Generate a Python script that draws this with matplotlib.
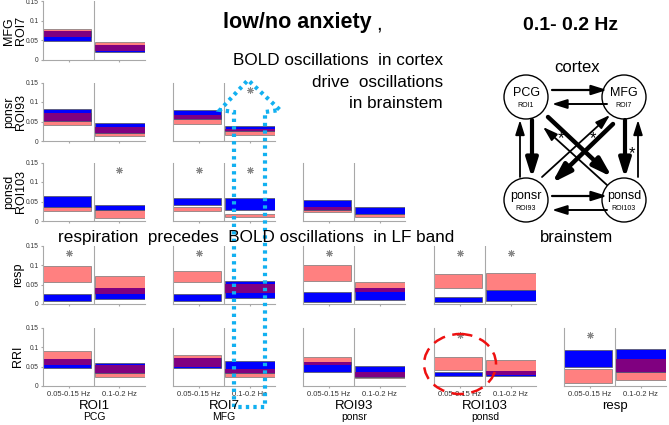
import matplotlib.pyplot as plt
from matplotlib.patches import Rectangle, Circle, Ellipse, Polygon

plt.rcParams['font.family'] = ['Liberation Sans', 'DejaVu Sans']

W, H = 669, 425

row_labels = ['MFG\nROI7', 'ponsr\nROI93', 'ponsd\nROI103', 'resp', 'RRI']
col_labels = ['ROI1', 'ROI7', 'ROI93', 'ROI103', 'resp']
col_names = ['PCG', 'MFG', 'ponsr', 'ponsd', '']
bands = ['0.05-0.15 Hz', '0.1-0.2 Hz']

# (low, high) per row -> column -> band
red_ci = [
    [[(0.059, 0.079), (0.022, 0.046)]],
    [[(0.041, 0.072), (0.013, 0.036)],
     [(0.044, 0.067), (0.016, 0.031)]],
    [[(0.026, 0.036), (0.008, 0.028)],
     [(0.026, 0.036), (0.010, 0.018)],
     [(0.023, 0.036), (0.010, 0.018)]],
    [[(0.056, 0.097), (0.025, 0.072)],
     [(0.056, 0.085), (0.028, 0.051)],
     [(0.059, 0.100), (0.031, 0.056)],
     [(0.041, 0.077), (0.036, 0.079)]],
    [[(0.054, 0.090), (0.023, 0.054)],
     [(0.050, 0.079), (0.023, 0.044)],
     [(0.054, 0.074), (0.020, 0.036)],
     [(0.041, 0.074), (0.028, 0.067)],
     [(0.008, 0.044), (0.015, 0.069)]],
]
blue_ci = [
    [[(0.049, 0.074), (0.020, 0.038)]],
    [[(0.052, 0.083), (0.021, 0.047)],
     [(0.057, 0.080), (0.026, 0.039)]],
    [[(0.036, 0.064), (0.028, 0.041)],
     [(0.041, 0.059), (0.028, 0.059)],
     [(0.028, 0.054), (0.018, 0.036)]],
    [[(0.008, 0.025), (0.013, 0.041)],
     [(0.008, 0.025), (0.015, 0.059)],
     [(0.005, 0.031), (0.010, 0.041)],
     [(0.005, 0.018), (0.008, 0.036)]],
    [[(0.046, 0.069), (0.033, 0.059)],
     [(0.047, 0.072), (0.033, 0.064)],
     [(0.036, 0.062), (0.023, 0.051)],
     [(0.026, 0.036), (0.026, 0.038)],
     [(0.049, 0.092), (0.036, 0.095)]],
]
# significant comparisons: (row, col, band)
stars = [(1, 1, 1), (2, 0, 1), (2, 1, 0), (2, 1, 1), (3, 0, 0), (3, 1, 0),
         (3, 2, 0), (3, 3, 0), (3, 3, 1), (4, 3, 0), (4, 4, 0)]
star_y = 0.13

SALMON, BLUE, PURPLE = '#ff8080', '#0000ff', '#800080'
GRID = '#a8a8a8'

col_left = [43, 173, 303, 434, 564]
row_bottom = [60, 141, 221, 304, 386]
ax_w, ax_h = 102, 58.5

fig = plt.figure(figsize=(W / 100, H / 100), dpi=100)

for r in range(5):
    for c in range(r + 1):
        ax = fig.add_axes([col_left[c] / W, 1 - row_bottom[r] / H, ax_w / W, ax_h / H])
        ax.set_xlim(0, 2)
        ax.set_ylim(0, 0.15)
        for b in range(2):
            x0 = [0.005, 1.025][b]
            w = 0.945 if b == 0 else 0.97
            rl, rh = red_ci[r][c][b]
            bl, bh = blue_ci[r][c][b]
            ax.add_patch(Rectangle((x0, rl), w, rh - rl, fc=SALMON, ec='#777777', lw=0.5))
            ax.add_patch(Rectangle((x0, bl), w, bh - bl, fc=BLUE, ec='#555555', lw=0.5))
            lo, hi = max(rl, bl), min(rh, bh)
            if hi > lo:
                ax.add_patch(Rectangle((x0, lo), w, hi - lo, fc=PURPLE, ec='none'))
        ax.axvline(1, color=GRID, lw=0.8)
        for s in ['top', 'right']:
            ax.spines[s].set_visible(False)
        for s in ['left', 'bottom']:
            ax.spines[s].set_color(GRID)
            ax.spines[s].set_linewidth(0.8)
        ax.set_xticks([0.5, 1.5])
        ax.tick_params(length=1.5, color=GRID, labelsize=4.8, pad=1.5, labelcolor='#333333')
        if r == 4:
            ax.set_xticklabels(bands, fontsize=5.5)
            ax.tick_params(axis='x', pad=2)
        else:
            ax.set_xticklabels([])
        if c == 0:
            ax.set_yticks([0, 0.05, 0.1, 0.15])
            ax.set_yticklabels(['0', '0.05', '0.1', '0.15'])
        else:
            ax.set_yticks([])
        for (sr, sc, sb) in stars:
            if sr == r and sc == c:
                ax.plot(0.5 + sb, star_y, marker=(8, 2, 0), ms=5, color='#888888', mew=0.7)

# overlay in pixel coordinates for annotations
ov = fig.add_axes([0, 0, 1, 1])
ov.set_xlim(0, W)
ov.set_ylim(H, 0)
ov.axis('off')
ov.patch.set_alpha(0)

for r in range(5):
    yc = row_bottom[r] - ax_h / 2
    xl = 15 if '\n' in row_labels[r] else 18
    ov.text(xl, yc, row_labels[r], rotation=90, ha='center', va='center',
            fontsize=9, linespacing=1.0)

for c in range(5):
    xc = col_left[c] + ax_w / 2
    ov.text(xc, 406, col_labels[c], ha='center', va='center', fontsize=9.5)
    if col_names[c]:
        ov.text(xc, 417, col_names[c], ha='center', va='center', fontsize=7.5)

ov.text(223, 22, 'low/no anxiety', ha='left', va='center', fontsize=15.5, fontweight='bold')
ov.text(376, 24, ',', ha='left', va='center', fontsize=15)
ov.text(443, 60, 'BOLD oscillations  in cortex', ha='right', va='center', fontsize=12.3)
ov.text(443, 82, 'drive  oscillations', ha='right', va='center', fontsize=12.3)
ov.text(443, 103, 'in brainstem', ha='right', va='center', fontsize=12.3)
ov.text(58, 237, 'respiration  precedes  BOLD oscillations  in LF band',
        ha='left', va='center', fontsize=12.3)

# network diagram
ov.text(571, 25, '0.1- 0.2 Hz', ha='center', va='center', fontsize=14, fontweight='bold')
ov.text(577, 67, 'cortex', ha='center', va='center', fontsize=12)
ov.text(577, 237, 'brainstem', ha='center', va='center', fontsize=12)
nodes = {'PCG': (526, 97, 'ROI1'), 'MFG': (624, 97, 'ROI7'),
         'ponsr': (526, 200, 'ROI93'), 'ponsd': (624, 200, 'ROI103')}
for name, (x, y, roi) in nodes.items():
    ov.add_patch(Circle((x, y), 22, fc='white', ec='black', lw=1.0))
    ov.text(x, y - 4, name, ha='center', va='center', fontsize=9)
    ov.text(x, y + 8, roi, ha='center', va='center', fontsize=5)

arrows = [
    ((552, 90), (607, 90), 1.6), ((607, 104), (552, 104), 1.4),
    ((552, 196), (607, 196), 1.6), ((607, 210), (552, 210), 1.4),
    ((532, 120), (532, 178), 3.0), ((520, 177), (520, 120), 1.3),
    ((625, 120), (625, 178), 3.0), ((638, 177), (638, 120), 1.3),
    ((548, 117), (612, 177), 3.2), ((607, 185), (543, 127), 1.3),
    ((613, 124), (552, 183), 3.2), ((542, 177), (610, 115), 1.3),
]
for (x0, y0), (x1, y1), lw in arrows:
    ov.annotate('', xy=(x1, y1), xytext=(x0, y0),
                arrowprops=dict(arrowstyle='-|>,head_length=0.7,head_width=0.22',
                                lw=lw, color='black', shrinkA=0, shrinkB=0,
                                mutation_scale=10 + lw * 2))
for x, y in [(561, 139), (593, 139), (632, 154)]:
    ov.text(x, y, '*', ha='center', va='center', fontsize=12)

# cyan dotted arrow outline
ov.add_patch(Polygon([(234, 407), (234, 112), (220, 110), (248, 80), (280, 110),
                      (265, 112), (265, 407)], closed=True, fill=False,
                     ec='#12b0f0', lw=3, ls=(0, (0.8, 1.0))))
# red dashed circle
ov.add_patch(Ellipse((460, 364), 72, 60, fill=False, ec='#ee1111', lw=1.8,
                     ls=(0, (5, 3))))

fig.savefig('out.png', dpi=100)
